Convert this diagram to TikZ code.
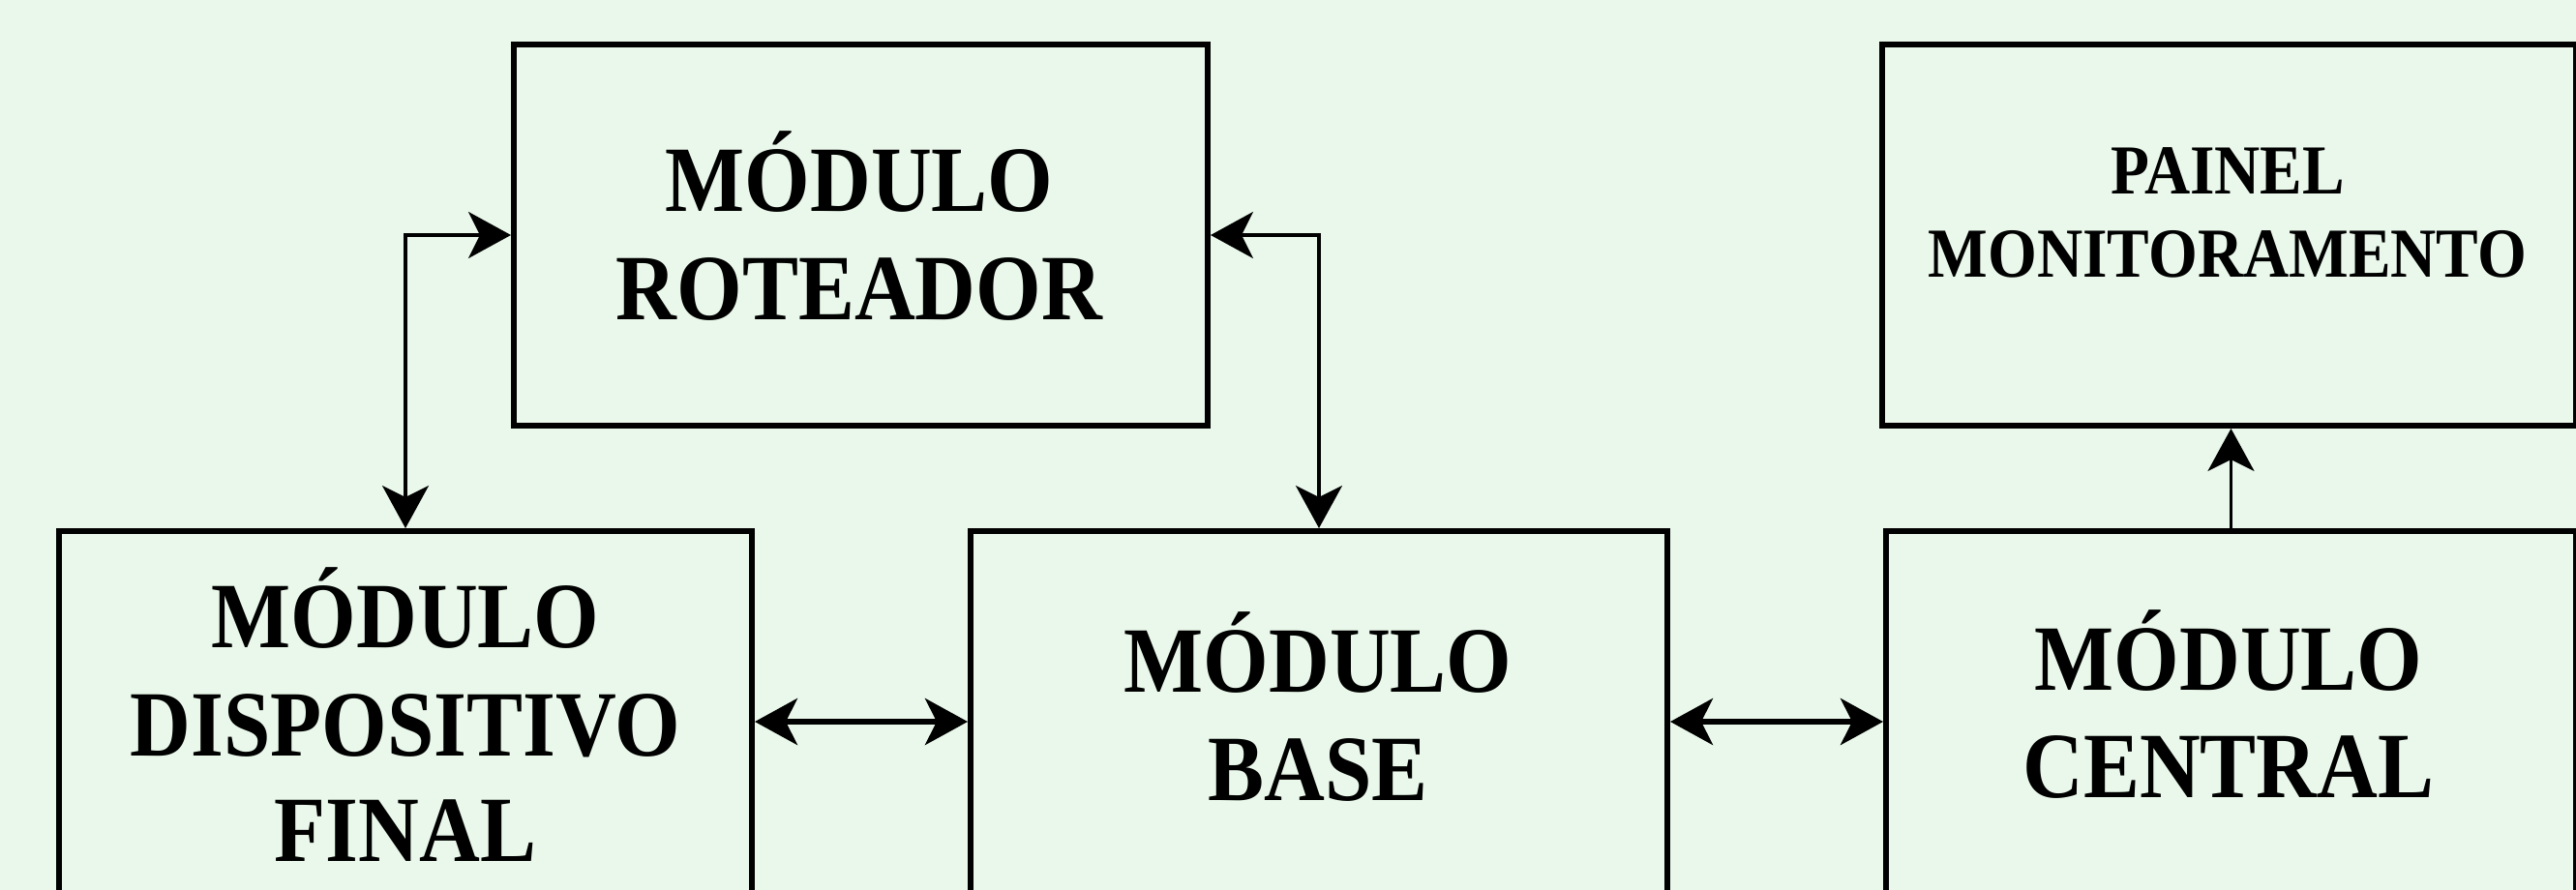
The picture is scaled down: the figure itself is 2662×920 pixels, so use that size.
\documentclass[tikz,border=0pt]{standalone}
\usepackage{fontspec}
\setmainfont{Liberation Serif}[FakeStretch=0.9]
\usetikzlibrary{arrows.meta,calc}
\definecolor{bg}{RGB}{233,248,234}
\begin{document}
\begin{tikzpicture}[x=0.5pt,y=-0.5pt]
\tikzset{
  module/.style={draw=black, line width=3pt, fill=bg, inner sep=0pt, anchor=north west},
  lbl/.style={font=\bfseries\fontsize{48.3}{56}\selectfont, anchor=base, inner sep=0pt},
  lblsmall/.style={font=\bfseries\fontsize{36.3}{43}\selectfont, anchor=base, inner sep=0pt},
  tip/.tip={Stealth[length=22pt,width=24pt,inset=6pt]},
  link/.style={line width=1.7pt, tip-tip},
  buslink/.style={line width=3pt, tip-tip},
  uplink/.style={line width=1.7pt, -tip},
}
% canvas
\fill[bg] (0,0) rectangle (2662,920);
\useasboundingbox (0,0) rectangle (2662,920);
\clip (0,0) rectangle (2662,920);

% modules
\node[module, minimum width=358.5pt, minimum height=197pt] (rot) at (528,43) {};
\node[module, minimum width=358.5pt, minimum height=197pt] (painel) at (1942,43) {};
\node[module, minimum width=358pt, minimum height=197pt] (disp) at (58,546) {};
\node[module, minimum width=360pt, minimum height=197pt] (base) at (1000,546) {};
\node[module, minimum width=356.5pt, minimum height=197pt] (central) at (1946,546) {};

% labels
\node[lbl] (rotA) at (888,218) {MÓDULO};
\node[lbl] (rotB) at (888,330) {ROTEADOR};
\node[lblsmall] (panA) at (2302,200) {PAINEL};
\node[lblsmall] (panB) at (2302,286) {MONITORAMENTO};
\node[lbl] (dispA) at (419,669) {MÓDULO};
\node[lbl] (dispB) at (419,781) {DISPOSITIVO};
\node[lbl] (dispC) at (419,890) {FINAL};
\node[lbl] (baseA) at (1362,715) {MÓDULO};
\node[lbl] (baseB) at (1362,827) {BASE};
\node[lbl] (cenA) at (2303,713) {MÓDULO};
\node[lbl] (cenB) at (2303,824) {CENTRAL};

% connections
\draw[link] (disp.north) |- (rot.west);
\draw[link] (rot.east) -| (base.north);
\draw[buslink] (disp.east) -- (base.west);
\draw[buslink] (base.east) -- (central.west);
\draw[uplink] (central.north) -- (central.north |- painel.south);
\end{tikzpicture}
\end{document}
